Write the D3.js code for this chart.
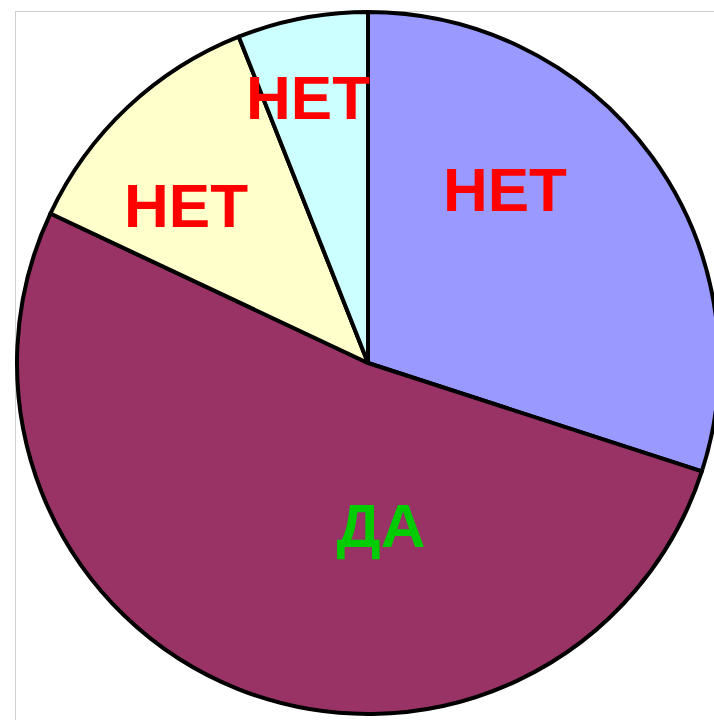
<!DOCTYPE html>
<html>
<head>
<meta charset="utf-8">
<script src="https://cdn.jsdelivr.net/npm/d3@7"></script>
<style>
  html, body { margin: 0; padding: 0; background: #fff; overflow: hidden; }
  svg { display: block; }
</style>
</head>
<body>
<script>
// data
const labels = ["НЕТ", "ДА", "НЕТ", "НЕТ"];
const values = [30, 52, 12, 6];
const colors = ["#9999FF", "#993366", "#FFFFCC", "#CCFFFF"];
const labelColors = ["#FF0000", "#00CC00", "#FF0000", "#FF0000"];
// label placement: angle (deg, clockwise from 12 o'clock) and radius fraction
const labelAngle = [38.2, 175.4, 311.0, 347.3];
const labelRadius = [0.631, 0.463, 0.687, 0.777];

const width = 714, height = 720;
const cx = 368, cy = 363, r = 351;

const svg = d3.select("body")
  .append("svg")
  .attr("width", width)
  .attr("height", height);

// thin grey frame of the chart area
svg.append("line")
  .attr("x1", 15).attr("y1", 11.5).attr("x2", width).attr("y2", 11.5)
  .attr("stroke", "#d0d0d0").attr("stroke-width", 1);
svg.append("line")
  .attr("x1", 15.5).attr("y1", 11).attr("x2", 15.5).attr("y2", height)
  .attr("stroke", "#d0d0d0").attr("stroke-width", 1);

const g = svg.append("g").attr("transform", `translate(${cx},${cy})`);

const pie = d3.pie().sort(null).value(d => d);
const arc = d3.arc().innerRadius(0).outerRadius(r);
const arcs = pie(values);

g.selectAll("path.slice")
  .data(arcs)
  .join("path")
  .attr("class", "slice")
  .attr("d", arc)
  .attr("fill", (d, i) => colors[i])
  .attr("stroke", "#000")
  .attr("stroke-width", 4)
  .attr("stroke-linejoin", "round");

g.selectAll("text.label")
  .data(arcs)
  .join("text")
  .attr("class", "label")
  .attr("x", (d, i) => Math.sin(labelAngle[i] * Math.PI / 180) * labelRadius[i] * r)
  .attr("y", (d, i) => -Math.cos(labelAngle[i] * Math.PI / 180) * labelRadius[i] * r)
  .attr("dy", "0.36em")
  .attr("text-anchor", "middle")
  .attr("font-family", "'Liberation Sans', Arial, sans-serif")
  .attr("font-weight", "bold")
  .attr("font-size", 62)
  .attr("fill", (d, i) => labelColors[i])
  .text((d, i) => labels[i]);
</script>
</body>
</html>
